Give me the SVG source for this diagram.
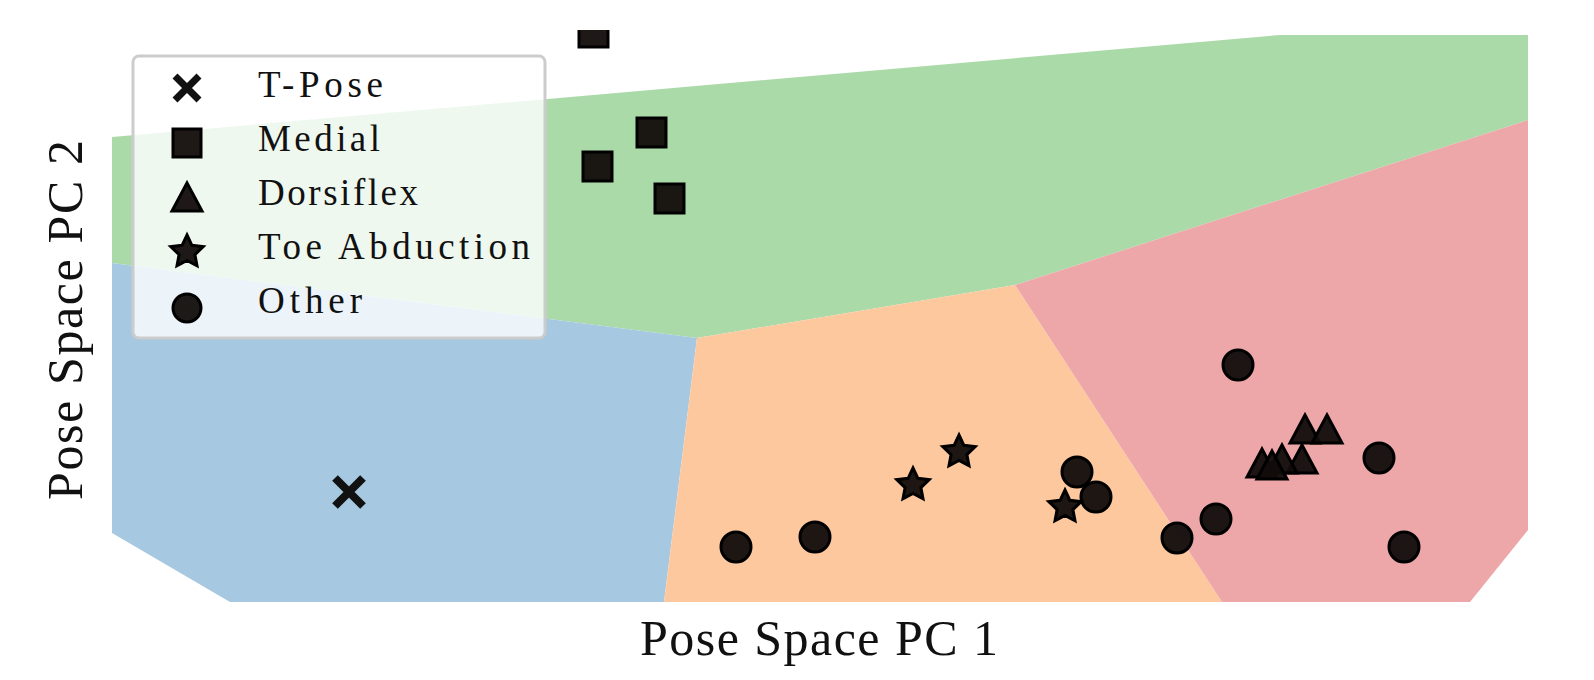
<svg xmlns="http://www.w3.org/2000/svg" width="1594" height="680" viewBox="0 0 1594 680">
<style>
.m{fill:#120d0b;fill-opacity:0.95;stroke:#000;stroke-width:3}
.t{font-family:"Liberation Serif","DejaVu Serif",serif;fill:#111}
</style>
<defs>
<clipPath id="c"><rect x="0" y="30" width="1594" height="650"/></clipPath>
<path id="star" d="M0,-17 L4.9,-6.7 L16.2,-5.3 L7.9,2.6 L10,13.8 L0,8.4 L-10,13.8 L-7.9,2.6 L-16.2,-5.3 L-4.9,-6.7Z"/>
<path id="tri" d="M0,-17 L15,11 L-15,11Z"/>
</defs>
<rect width="1594" height="680" fill="#fff"/>
<g id="regions">
<polygon fill="#abdaa9" points="112,137 1280,35 1528,35 1528,120 1015,285 697,338 112,263"/>
<polygon fill="#a6c8e0" points="112,263 697,338 664,602 230,602 112,533"/>
<polygon fill="#fec89e" points="697,338 1015,285 1222,602 664,602"/>
<polygon fill="#eda7a9" points="1015,285 1528,120 1528,530 1470,602 1222,602"/>
</g>
<g id="points">
<g clip-path="url(#c)"><rect class="m" x="579" y="20" width="29" height="27"/></g>
<rect class="m" x="583" y="152" width="29" height="29"/>
<rect class="m" x="637" y="118" width="29" height="29"/>
<rect class="m" x="655" y="184" width="29" height="29"/>
<circle class="m" cx="736" cy="547" r="15"/>
<circle class="m" cx="815" cy="537" r="15"/>
<circle class="m" cx="1077" cy="472" r="15"/>
<circle class="m" cx="1096" cy="497" r="15"/>
<circle class="m" cx="1177" cy="538" r="15"/>
<circle class="m" cx="1216" cy="519" r="15"/>
<circle class="m" cx="1238" cy="365" r="15"/>
<circle class="m" cx="1379" cy="458" r="15"/>
<circle class="m" cx="1404" cy="547" r="15"/>
<use href="#tri" class="m" x="1305" y="432"/>
<use href="#tri" class="m" x="1327" y="432"/>
<use href="#tri" class="m" x="1302" y="462"/>
<use href="#tri" class="m" x="1282" y="462"/>
<use href="#tri" class="m" x="1262" y="466"/>
<use href="#tri" class="m" x="1272" y="468"/>
<use href="#star" class="m" x="913" y="485"/>
<use href="#star" class="m" x="959" y="452"/>
<use href="#star" class="m" x="1065" y="507"/>
<path d="M335,478 L363,506 M363,478 L335,506" stroke="#111" stroke-width="8"/>
</g>
<g id="legend">
<rect x="133" y="56" width="412" height="282" rx="6" fill="#fff" fill-opacity="0.8" stroke="#ccc" stroke-width="3"/>
<path d="M175,76 L199,100 M199,76 L175,100" stroke="#111" stroke-width="7"/>
<rect class="m" x="173" y="129" width="28" height="28"/>
<use href="#tri" class="m" x="187" y="200"/>
<use href="#star" class="m" x="187" y="252"/>
<circle class="m" cx="187" cy="308" r="14"/>
<text class="t" x="258" y="97" font-size="37" textLength="125">T-Pose</text>
<text class="t" x="258" y="151" font-size="37" textLength="122">Medial</text>
<text class="t" x="258" y="205" font-size="37" textLength="160">Dorsiflex</text>
<text class="t" x="258" y="259" font-size="37" textLength="272">Toe Abduction</text>
<text class="t" x="258" y="313" font-size="37" textLength="104">Other</text>
</g>
<g id="axes">
<text class="t" x="640" y="655" font-size="50" textLength="358">Pose Space PC 1</text>
<text class="t" transform="translate(82,500) rotate(-90)" font-size="50" textLength="360">Pose Space PC 2</text>
</g>
</svg>
